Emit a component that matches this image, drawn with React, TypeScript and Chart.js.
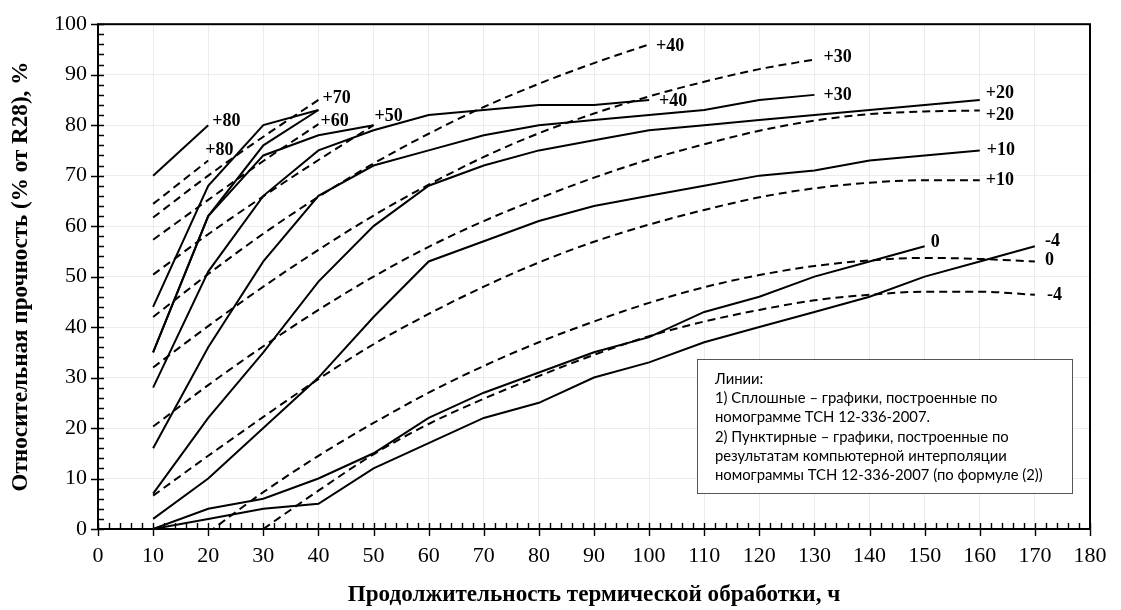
import React, { useEffect, useRef } from "react";
import { Chart, registerables } from "chart.js";

Chart.register(...registerables);

// Hours of heat treatment (x positions of the readings)
const hours = [10, 20, 30, 40, 50, 60, 70, 80, 90, 100, 110, 120, 130, 140, 150, 160, 170];

// Solid lines — nomogram TSN 12-336-2007 (values from 10 h onward)
const solidP80 = [70, 80];
const solidP70 = [44, 68, 80, 83];
const solidP60 = [35, 62, 76, 83];
const solidP50 = [35, 62, 74, 78, 80];
const solidP40 = [28, 51, 66, 75, 79, 82, 83, 84, 84, 85];
const solidP30 = [16, 36, 53, 66, 72, 75, 78, 80, 81, 82, 83, 85, 86];
const solidP20 = [7, 22, 35, 49, 60, 68, 72, 75, 77, 79, 80, 81, 82, 83, 84, 85];
const solidP10 = [2, 10, 20, 30, 42, 53, 57, 61, 64, 66, 68, 70, 71, 73, 74, 75];
const solidZero = [0, 4, 6, 10, 15, 22, 27, 31, 35, 38, 43, 46, 50, 53, 56];
const solidM4 = [0, 2, 4, 5, 12, 17, 22, 25, 30, 33, 37, 40, 43, 46, 50, 53, 56];

// Dashed lines — computer interpolation (formula (2))
const dashP80 = [64.4, 73];
const dashP70 = [61.7, 70, 77.7, 85];
const dashP60 = [57.3, 65.2, 72.9, 80.2];
const dashP50 = [50.4, 58.4, 65.9, 73.1, 80];
const dashP40 = [42, 50.5, 58.5, 65.8, 72.4, 78.3, 83.6, 88.2, 92.3, 96];
const dashP30 = [32, 40.2, 48, 55.3, 62.1, 68.2, 73.7, 78.4, 82.3, 85.7, 88.6, 91.1, 93];
const dashP20 = [20.3, 28.5, 36.2, 43.4, 50, 55.9, 61, 65.5, 69.6, 73.2, 76.2, 78.9, 80.9, 82.2, 82.7, 82.9];
const dashP10 = [6.6, 14.5, 22.2, 29.7, 36.6, 42.6, 48, 52.8, 56.9, 60.3, 63.2, 65.7, 67.5, 68.6, 69.1, 69.1];
const dashZero = [null, -0.7, 7.3, 14.5, 21, 27, 32.3, 37, 41.1, 44.8, 47.9, 50.3, 52.1, 53.2, 53.7, 53.5, 53];
const dashM4 = [null, null, 0, 7.6, 14.8, 20.8, 25.8, 30.3, 34.5, 38.2, 41.1, 43.4, 45.3, 46.4, 47, 47, 46.4];

// Axis ticks
const xTickMin = 0, xTickMax = 180, xTickStep = 10, xMinorStep = 2;
const yTickMin = 0, yTickMax = 100, yTickStep = 10, yMinorStep = 2;

const xTitle = "Продолжительность термической обработки, ч";
const yTitle = "Относительная прочность (% от R28), %";
const noteLines = [
  "Линии:",
  "1) Сплошные – графики, построенные по",
  "номограмме ТСН 12-336-2007.",
  "2) Пунктирные – графики, построенные по",
  "результатам компьютерной интерполяции",
  "номограммы ТСН 12-336-2007 (по формуле (2))",
];

const SERIF = '"Times New Roman", "Liberation Serif", serif';
const SANS = 'Lato, "Open Sans", sans-serif';

type SeriesDef = { key: string; values: (number | null)[]; dashed: boolean; label: string; dx: number; dy: number };

const series: SeriesDef[] = [
  { key: "s80", values: solidP80, dashed: false, label: "+80", dx: 4, dy: -4 },
  { key: "s70", values: solidP70, dashed: false, label: "", dx: 0, dy: 0 },
  { key: "s60", values: solidP60, dashed: false, label: "", dx: 0, dy: 0 },
  { key: "s50", values: solidP50, dashed: false, label: "", dx: 0, dy: 0 },
  { key: "s40", values: solidP40, dashed: false, label: "+40", dx: 10, dy: 1 },
  { key: "s30", values: solidP30, dashed: false, label: "+30", dx: 9, dy: 0 },
  { key: "s20", values: solidP20, dashed: false, label: "+20", dx: 6, dy: -7 },
  { key: "s10", values: solidP10, dashed: false, label: "+10", dx: 7, dy: 0 },
  { key: "s0", values: solidZero, dashed: false, label: "0", dx: 6, dy: -4 },
  { key: "sm4", values: solidM4, dashed: false, label: "-4", dx: 10, dy: -5 },
  { key: "d80", values: dashP80, dashed: true, label: "+80", dx: -3, dy: -10 },
  { key: "d70", values: dashP70, dashed: true, label: "+70", dx: 4, dy: -2 },
  { key: "d60", values: dashP60, dashed: true, label: "+60", dx: 2, dy: -3 },
  { key: "d50", values: dashP50, dashed: true, label: "+50", dx: 1, dy: -9 },
  { key: "d40", values: dashP40, dashed: true, label: "+40", dx: 7, dy: 2 },
  { key: "d30", values: dashP30, dashed: true, label: "+30", dx: 9, dy: -2 },
  { key: "d20", values: dashP20, dashed: true, label: "+20", dx: 6, dy: 5 },
  { key: "d10", values: dashP10, dashed: true, label: "+10", dx: 6, dy: 0 },
  { key: "d0", values: dashZero, dashed: true, label: "0", dx: 10, dy: -1 },
  { key: "dm4", values: dashM4, dashed: true, label: "-4", dx: 12, dy: 1 },
];

const toPoints = (vals: (number | null)[]) =>
  vals.map((v, i) => ({ x: hours[i], y: v }));

function fitSize(text: string, font: (s: number) => string, target: number) {
  const ctx = document.createElement("canvas").getContext("2d")!;
  ctx.font = font(20);
  const w = ctx.measureText(text).width;
  return w > 0 ? (20 * target) / w : 20;
}

function makeDecor(noteSize: number) {
  return {
    id: "decor",
    afterDatasetsDraw(chart: any) {
      const { ctx, chartArea: a, scales } = chart;
      const xs = scales.x, ys = scales.y;
      ctx.save();
      // series labels
      ctx.fillStyle = "#000";
      ctx.font = `bold 18px ${SERIF}`;
      ctx.textAlign = "left";
      ctx.textBaseline = "middle";
      series.forEach((s) => {
        if (!s.label) return;
        let last = s.values.length - 1;
        while (last >= 0 && s.values[last] == null) last--;
        const px = xs.getPixelForValue(hours[last]);
        const py = ys.getPixelForValue(s.values[last] as number);
        ctx.fillText(s.label, px + s.dx, py + s.dy);
      });
      // note box
      const bx = 697, by = 359, bw = 375, bh = 134;
      ctx.fillStyle = "#fff";
      ctx.fillRect(bx, by, bw, bh);
      ctx.strokeStyle = "#555";
      ctx.lineWidth = 1;
      ctx.strokeRect(bx + 0.5, by + 0.5, bw, bh);
      ctx.fillStyle = "#000";
      ctx.font = `${noteSize}px ${SANS}`;
      ctx.textBaseline = "middle";
      noteLines.forEach((t, i) => ctx.fillText(t, bx + 18, by + 20 + i * 19.3));
      // frame
      ctx.strokeStyle = "#000";
      ctx.lineWidth = 2;
      ctx.strokeRect(a.left, a.top, a.right - a.left, a.bottom - a.top);
      // ticks
      ctx.lineWidth = 1.4;
      ctx.beginPath();
      for (let v = xTickMin; v <= xTickMax; v += xMinorStep) {
        const px = Math.round(xs.getPixelForValue(v)) + 0.5;
        const major = v % xTickStep === 0;
        ctx.moveTo(px, a.bottom - 6);
        ctx.lineTo(px, a.bottom + (major ? 7 : 0));
      }
      for (let v = yTickMin; v <= yTickMax; v += yMinorStep) {
        const py = Math.round(ys.getPixelForValue(v)) + 0.5;
        const major = v % yTickStep === 0;
        ctx.moveTo(a.left + 6, py);
        ctx.lineTo(a.left - (major ? 7 : 0), py);
      }
      ctx.stroke();
      ctx.restore();
    },
  };
}

export default function App() {
  const ref = useRef<HTMLCanvasElement>(null);
  useEffect(() => {
    const canvas = ref.current!;
    const titleSize = fitSize(xTitle, (s) => `bold ${s}px ${SERIF}`, 493);
    const noteSize = fitSize(noteLines[5], (s) => `${s}px ${SANS}`, 328);
    const datasets = series.map((s) => ({
      label: s.key,
      data: toPoints(s.values),
      borderColor: "#000",
      backgroundColor: "#000",
      borderWidth: 2,
      borderDash: s.dashed ? [8, 5] : [],
      pointRadius: 0,
      fill: false,
      spanGaps: false,
      tension: 0,
      cubicInterpolationMode: s.dashed ? ("monotone" as const) : ("default" as const),
    }));
    const titleLH = titleSize * 1.2;
    const chart = new Chart(canvas, {
      type: "line",
      data: { datasets },
      options: {
        responsive: false,
        animation: false,
        devicePixelRatio: 1,
        layout: { padding: { top: 17, right: 20, left: 0, bottom: 0 } },
        plugins: { legend: { display: false }, tooltip: { enabled: false } },
        scales: {
          x: {
            type: "linear",
            min: xTickMin,
            max: xTickMax,
            ticks: { stepSize: xTickStep, color: "#000", font: { family: SERIF, size: 22 }, padding: 14.5, maxRotation: 0, autoSkip: false },
            grid: { color: "#ececec", drawTicks: false },
            border: { display: false },
            title: { display: true, text: xTitle, color: "#000", font: { family: SERIF, size: titleSize, weight: "bold" }, padding: { top: 0, bottom: 15 - titleLH / 2 } },
            afterFit: (s: any) => { s.height = 81; },
          },
          y: {
            min: yTickMin,
            max: yTickMax,
            ticks: { stepSize: yTickStep, color: "#000", font: { family: SERIF, size: 22 }, padding: 11 },
            grid: { color: "#ececec", drawTicks: false },
            border: { display: false },
            title: { display: true, text: yTitle, color: "#000", font: { family: SERIF, size: titleSize, weight: "bold" }, padding: { top: 21 - titleLH / 2, bottom: 0 } },
            afterFit: (s: any) => { s.width = 98; },
          },
        },
      },
      plugins: [makeDecor(noteSize)],
    });
    return () => chart.destroy();
  }, []);
  return (
    <div style={{ position: "absolute", left: 0, top: 0, width: 1121, height: 610, background: "#fff" }}>
      <canvas ref={ref} width={1121} height={610} style={{ display: "block" }} />
    </div>
  );
}
